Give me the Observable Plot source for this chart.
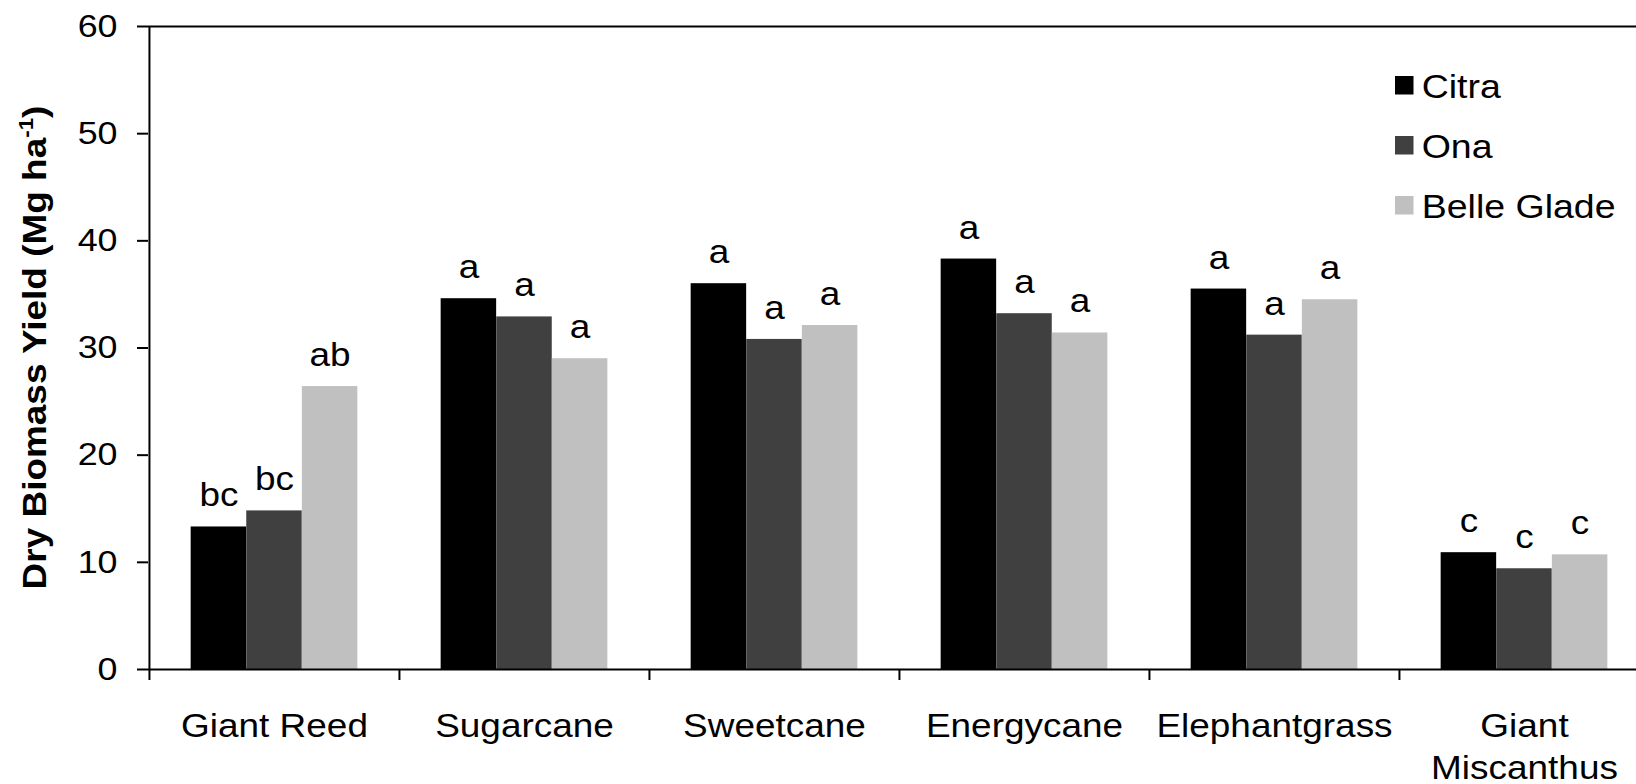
<!DOCTYPE html>
<html>
<head>
<meta charset="utf-8">
<script src="https://cdn.jsdelivr.net/npm/d3@7"></script>
<script src="https://cdn.jsdelivr.net/npm/@observablehq/plot@0.6"></script>
<style>
  html, body { margin: 0; padding: 0; background: #fff; }
  #chart svg { display: block; }
</style>
</head>
<body>
<div id="chart"></div>
<script>
// ---- data ----
const categories = ["Giant Reed", "Sugarcane", "Sweetcane", "Energycane", "Elephantgrass", "Giant Miscanthus"];
const categoryLabels = ["Giant Reed", "Sugarcane", "Sweetcane", "Energycane", "Elephantgrass", "Giant\nMiscanthus"];
const seriesNames = ["Citra", "Ona", "Belle Glade"];
const seriesColors = ["#000000", "#404040", "#c0c0c0"];
const citraValues = [13.3, 34.6, 36.0, 38.3, 35.5, 10.9];
const onaValues = [14.8, 32.9, 30.8, 33.2, 31.2, 9.4];
const belleGladeValues = [26.4, 29.0, 32.1, 31.4, 34.5, 10.7];
const citraLetters = ["bc", "a", "a", "a", "a", "c"];
const onaLetters = ["bc", "a", "a", "a", "a", "c"];
const belleGladeLetters = ["ab", "a", "a", "a", "a", "c"];
const yTicks = [0, 10, 20, 30, 40, 50, 60];
const yLabelMain = "Dry Biomass Yield (Mg ha";
const yLabelSup = "-1";
const yLabelEnd = ")";

// ---- build table ----
const valuesBySeries = [citraValues, onaValues, belleGladeValues];
const lettersBySeries = [citraLetters, onaLetters, belleGladeLetters];
const rowsBySeries = seriesNames.map((s, i) =>
  categories.map((c, j) => ({category: c, series: s, value: valuesBySeries[i][j], letter: lettersBySeries[i][j]}))
);

// ---- layout ----
const W = 1636, H = 784;
const left = 148.5, step = 250.1, barW = 55.6;
const gap = (step - 3 * barW) / 2;
const FONT = "'Liberation Sans', Arial, Helvetica, sans-serif";
const S = 1.12; // horizontal stretch of the reference's lettering

const chart = Plot.plot({
  width: W,
  height: H,
  marginLeft: 148,
  marginRight: 0,
  marginTop: 26,
  marginBottom: 115,
  style: {fontFamily: FONT, fontSize: "33px", color: "#000", background: "#fff"},
  x: {type: "band", domain: categories, range: [left, left + 6 * step], padding: 0, axis: null},
  y: {domain: [0, 60], range: [669, 26]},
  marks: [
    ...rowsBySeries.map((rows, i) => Plot.barY(rows, {
      x: "category", y: "value", fill: seriesColors[i],
      insetLeft: gap + i * barW, insetRight: step - gap - (i + 1) * barW
    })),
    ...rowsBySeries.map((rows, i) => Plot.text(rows, {
      x: "category", y: "value", text: "letter",
      dx: (i - 1) * barW, dy: -20.5, lineAnchor: "bottom", fontSize: 33, fill: "#000"
    })),
    Plot.ruleY([0], {strokeWidth: 2}),
    Plot.ruleY([60], {strokeWidth: 2}),
    Plot.ruleX([categories[0]], {x: d => d, y1: -1.03, y2: 60, dx: -step / 2, strokeWidth: 2}),
    Plot.ruleX(categories.slice(1), {x: d => d, y1: 0, y2: -1.03, dx: -step / 2, strokeWidth: 2}),
    Plot.axisY(yTicks, {anchor: "left", tickSize: 11, tickPadding: 20, strokeWidth: 2, fontSize: 32, label: null}),
    Plot.text(categories, {
      x: d => d, y: () => 0, text: (d, i) => categoryLabels[i],
      dy: 38, lineAnchor: "top", lineHeight: 1.26, fontSize: 33, fill: "#000"
    })
  ]
});

document.getElementById("chart").append(chart);
const svg = chart.tagName.toLowerCase() === "svg" ? chart : chart.querySelector("svg");

// widen lettering along its reading direction, keeping each anchor in place
svg.querySelectorAll("text").forEach(t => {
  let tr = t.getAttribute("transform") || "";
  const xa = t.getAttribute("x");
  if (xa !== null && !isNaN(+xa) && +xa !== 0) {
    t.removeAttribute("x");
    tr = `translate(${+xa},0) ` + tr;
  }
  t.setAttribute("transform", (tr + ` scale(${S},1)`).trim());
});

const sel = d3.select(svg);

// y-axis title with superscript
const ylab = sel.append("text")
  .attr("transform", `translate(46,347.5) rotate(-90) scale(${S},1)`)
  .attr("text-anchor", "middle")
  .attr("font-family", FONT)
  .attr("font-weight", "bold")
  .attr("font-size", 33)
  .attr("fill", "#000");
ylab.append("tspan").text(yLabelMain);
ylab.append("tspan").attr("font-size", 20).attr("dy", -13).text(yLabelSup);
ylab.append("tspan").attr("dy", 13).text(yLabelEnd);

// legend inside the plot area (top right)
const lg = sel.append("g")
  .attr("font-family", FONT)
  .attr("font-size", 33.5)
  .attr("text-anchor", "start");
seriesNames.forEach((s, i) => {
  lg.append("rect")
    .attr("x", 1395).attr("y", 76 + 60 * i)
    .attr("width", 18.5).attr("height", 18.5)
    .attr("fill", seriesColors[i]);
  lg.append("text")
    .attr("transform", `translate(1421.7,${98.3 + 60 * i}) scale(${S},1)`)
    .attr("text-anchor", "start")
    .attr("fill", "#000")
    .text(s);
});
</script>
</body>
</html>
